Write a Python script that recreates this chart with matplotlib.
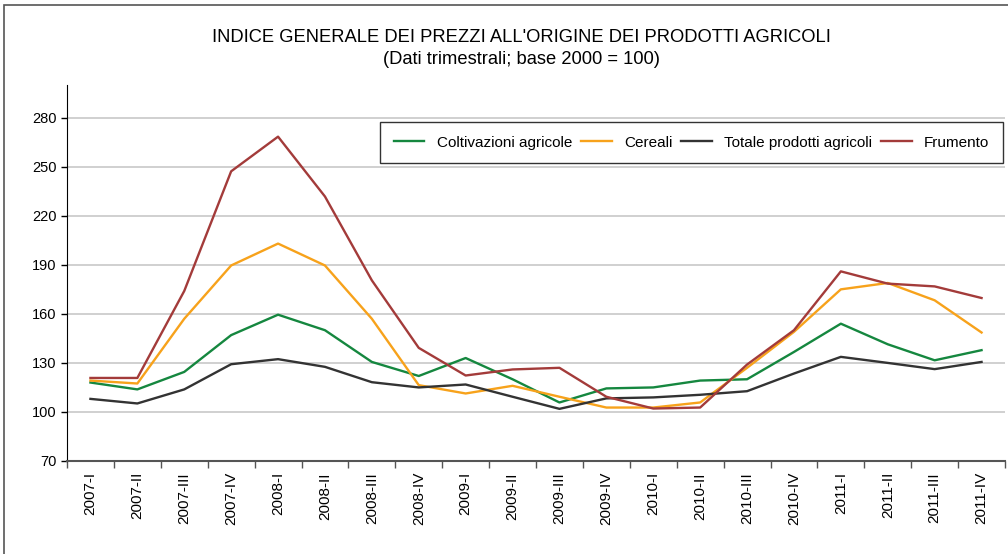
import matplotlib
matplotlib.use("Agg")
import matplotlib.pyplot as plt
from matplotlib.patches import Rectangle
import numpy as np

plt.rcParams['font.family'] = ['Liberation Sans', 'DejaVu Sans']

quarters = ["2007-I", "2007-II", "2007-III", "2007-IV",
            "2008-I", "2008-II", "2008-III", "2008-IV",
            "2009-I", "2009-II", "2009-III", "2009-IV",
            "2010-I", "2010-II", "2010-III", "2010-IV",
            "2011-I", "2011-II", "2011-III", "2011-IV"]

coltivazioni = [118, 113.8, 124.5, 147, 159.5, 150, 130.6, 122,
                133, 120, 105.8, 114.4, 115, 119.2, 120, 136.7,
                154, 141.4, 131.6, 137.8]
cereali = [119.2, 117.4, 157, 189.6, 203, 189.6, 157, 116.4,
           111.3, 116, 109.3, 102.7, 102.7, 105.8, 127, 149,
           175, 178.9, 168.3, 148.6]
totale = [108, 105.2, 113.8, 129.2, 132.3, 127.6, 118.2, 115,
          116.8, 109.3, 101.9, 108.3, 108.9, 110.5, 112.7, 123.5,
          133.7, 130, 126.2, 130.6]
frumento = [120.8, 120.8, 174, 247.2, 268.4, 231.8, 180.5, 139.2,
            122.3, 126, 127, 109.3, 102.1, 102.7, 129, 150,
            186, 178.5, 176.8, 169.7]

series = [
    ("Coltivazioni agricole", coltivazioni, "#15873F"),
    ("Cereali", cereali, "#F7A21B"),
    ("Totale prodotti agricoli", totale, "#333333"),
    ("Frumento", frumento, "#A33B3A"),
]

fig = plt.figure(figsize=(10.08, 5.54), dpi=100)
ax = fig.add_axes([67 / 1008, 1 - 461 / 554, (1005 - 67) / 1008, (461 - 85) / 554])

# outer frame
fig.patches.append(Rectangle((4 / 1008, -0.1), 1.1, 1 - 5 / 554 + 0.1,
                             transform=fig.transFigure, fill=False,
                             edgecolor="#555555", linewidth=1.2))

x = np.arange(len(quarters))
for name, vals, col in series:
    ax.plot(x, vals, color=col, linewidth=1.7, label=name)

ax.set_xlim(-0.5, len(quarters) - 0.5)
ax.set_ylim(70, 300)
ax.set_yticks(np.arange(70, 281, 30))
ax.yaxis.grid(True, color="#c8c8c8", linewidth=1.2)
ax.set_axisbelow(True)

ax.set_xticks(x)
ax.set_xticklabels(quarters, rotation=90, fontsize=11)
ax.set_xticks(np.arange(-0.5, len(quarters), 1), minor=True)
ax.tick_params(axis="x", which="major", length=0, pad=8)
ax.tick_params(axis="x", which="minor", length=5, width=1, color="#555555", direction="out")
ax.tick_params(axis="y", length=4, width=1, labelsize=10.5, direction="out")

for s in ["top", "right"]:
    ax.spines[s].set_visible(False)
ax.spines["left"].set_color("black")
ax.spines["bottom"].set_color("#555555")
ax.spines["bottom"].set_linewidth(1.5)

fig.text(0.517, 1 - 38 / 554, "INDICE GENERALE DEI PREZZI ALL'ORIGINE DEI PRODOTTI AGRICOLI",
         ha="center", va="center", fontsize=13.2)
fig.text(0.517, 1 - 59 / 554, "(Dati trimestrali; base 2000 = 100)",
         ha="center", va="center", fontsize=13.2)

leg = ax.legend(loc="upper right", bbox_to_anchor=(0.998, 0.902), borderaxespad=0,
                ncol=4, fontsize=11, frameon=True, fancybox=False, edgecolor="black",
                handlelength=2, handletextpad=0.8, columnspacing=0.6, borderpad=0.9)
leg.get_frame().set_linewidth(1.0)

fig.savefig("out.png", dpi=100)
